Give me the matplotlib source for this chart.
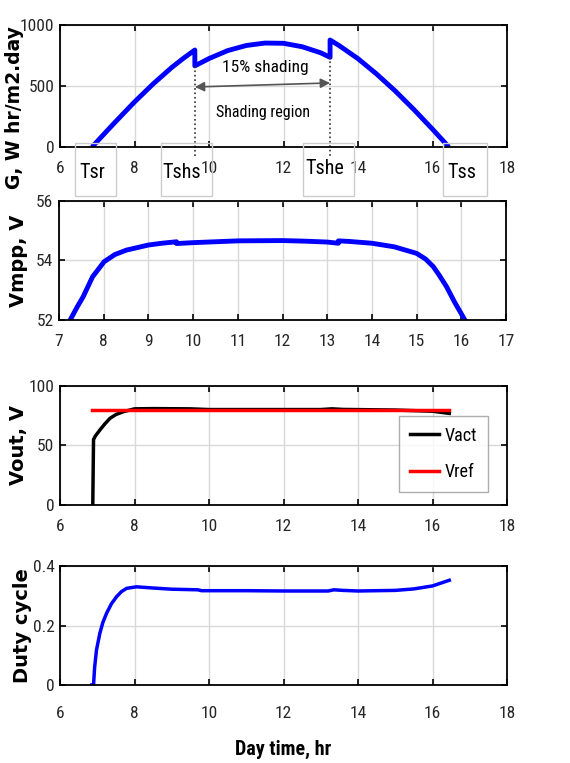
import numpy as np
import matplotlib
matplotlib.use("Agg")
import matplotlib.pyplot as plt
from matplotlib.patches import Rectangle

plt.rcParams['font.family'] = ['Roboto Condensed', 'Archivo Narrow', 'PT Sans Narrow', 'DejaVu Sans']
plt.rcParams['font.stretch'] = 'condensed'

# irradiance
g_time = [6.86, 7.2, 7.5, 8.0, 8.5, 9.0, 9.3, 9.62, 9.62, 10.0, 10.5, 11.0, 11.5,
          12.0, 12.5, 13.0, 13.25, 13.25, 13.5, 14.0, 14.5, 15.0, 15.5, 16.0, 16.44]
g_val = [0, 112, 210, 369, 517, 652, 724, 795, 665, 725, 790, 832, 852,
         850, 822, 772, 735, 877, 830, 724, 598, 459, 307, 146, 0]

# maximum power point voltage
v_time = [7.25, 7.4, 7.54, 7.75, 8.01, 8.25, 8.51, 9.0, 9.3, 9.63, 9.63, 10.0, 11.0,
          12.0, 12.5, 13.0, 13.25, 13.25, 13.5, 14.0, 14.5, 15.0, 15.2, 15.37, 15.5,
          15.67, 15.85, 16.08]
v_val = [52.0, 52.42, 52.78, 53.45, 53.96, 54.2, 54.35, 54.52, 54.58, 54.63, 54.57, 54.6, 54.66,
         54.67, 54.65, 54.62, 54.58, 54.66, 54.64, 54.58, 54.46, 54.24, 54.05, 53.8, 53.52,
         53.12, 52.6, 52.0]

# output voltage
vo_time = [6.88, 6.9, 6.95, 7.07, 7.2, 7.34, 7.5, 7.7, 8.0, 8.5, 9.5, 10.0, 12.0, 13.0,
           13.3, 13.6, 15.0, 16.0, 16.45]
vo_act = [0, 55, 58, 63, 68, 72.8, 76, 78.4, 80.8, 81, 80.8, 80.2, 80.2, 80.2,
          80.8, 80.3, 79.8, 78.8, 77.0]
vref_time = [6.86, 16.45]
vref_val = [80, 80]

# duty cycle
d_time = [6.85, 6.9, 6.93, 6.98, 7.07, 7.15, 7.25, 7.38, 7.52, 7.65, 7.79, 8.05, 8.5, 9.0,
          9.7, 9.8, 11.0, 12.0, 13.2, 13.35, 13.6, 14.0, 15.0, 15.5, 16.0, 16.45]
d_val = [0, 0, 0.06, 0.118, 0.174, 0.21, 0.241, 0.273, 0.297, 0.314, 0.325, 0.33, 0.326, 0.322,
         0.32, 0.317, 0.317, 0.316, 0.316, 0.32, 0.318, 0.316, 0.318, 0.323, 0.333, 0.352]

shade_start, shade_end = 9.62, 13.25
box_labels = ['Tsr', 'Tshs', 'Tshe', 'Tss']

W, H = 570, 763
fig = plt.figure(figsize=(W / 100, H / 100), dpi=100)


def px_axes(l, t, r, b):
    return fig.add_axes([l / W, 1 - b / H, (r - l) / W, (b - t) / H])


def style(ax):
    ax.grid(True, color='#d9d9d9', lw=1)
    ax.set_axisbelow(True)
    ax.tick_params(direction='in', top=True, right=True, labelsize=12.5,
                   labelcolor='#262626', length=4, width=1.2)
    ax.tick_params(axis='x', pad=10)
    ax.tick_params(axis='y', pad=4)
    for s in ax.spines.values():
        s.set_linewidth(1.3)


ylab = dict(family=['DejaVu Sans'], fontstretch='normal', fontweight='bold', fontsize=14)

# --- panel 1
ax1 = px_axes(60, 25, 507, 147)
ax1.plot(g_time, g_val, color='blue', lw=3.5, solid_capstyle='butt')
ax1.set_xlim(6, 18)
ax1.set_ylim(0, 1000)
ax1.set_xticks(np.arange(6, 19, 2))
ax1.set_yticks([0, 500, 1000])
style(ax1)
ax1.set_ylabel('G, W hr/m2.day', family=['DejaVu Sans'], fontstretch='normal',
               fontweight='bold', fontsize=13.5)
ax1.yaxis.set_label_coords(-0.08, 0.32)
for xs, ytop in [(shade_start, 665), (shade_end, 735)]:
    ax1.plot([xs, xs], [ytop, -85], ls=':', color='#333333', lw=1.2, clip_on=False)
ax1.annotate('', xy=(shade_start, 492), xytext=(shade_end, 525),
             arrowprops=dict(arrowstyle='<|-|>', color='#555555', lw=1.2,
                             mutation_scale=14, shrinkA=0, shrinkB=0))
ax1.text(11.5, 650, '15% shading', ha='center', va='center', fontsize=12.5)
ax1.text(11.45, 280, 'Shading region', ha='center', va='center', fontsize=11.5)

# boxes with time labels below the top axes
box_px = [(75, 116, 92, 172), (161, 212, 182, 172), (303, 354, 325, 168), (443, 487, 462, 172)]
for lab, (bl, br, tx, ty) in zip(box_labels, box_px):
    fig.patches.append(Rectangle((bl / W, 1 - 196 / H), (br - bl) / W, 53 / H,
                                 transform=fig.transFigure, fill=False,
                                 edgecolor='#cccccc', lw=1))
    fig.text(tx / W, 1 - ty / H, lab, ha='center', va='center', fontsize=14.5)

# --- panel 2
ax2 = px_axes(59, 201, 506, 320)
ax2.plot(v_time, v_val, color='blue', lw=3.5)
ax2.set_xlim(7, 17)
ax2.set_ylim(52, 56)
ax2.set_xticks(np.arange(7, 18, 1))
ax2.set_yticks([52, 54, 56])
style(ax2)
ax2.set_ylabel('Vmpp, V', **ylab)
ax2.yaxis.set_label_coords(-0.07, 0.5)

# --- panel 3
ax3 = px_axes(60, 386, 507, 505)
ax3.plot(vo_time, vo_act, color='black', lw=2.5, label='Vact')
ax3.plot(vref_time, vref_val, color='red', lw=2.5, label='Vref')
ax3.set_xlim(6, 18)
ax3.set_ylim(0, 100)
ax3.set_xticks(np.arange(6, 19, 2))
ax3.set_yticks([0, 50, 100])
style(ax3)
ax3.set_ylabel('Vout, V', **ylab)
ax3.yaxis.set_label_coords(-0.072, 0.5)
leg = ax3.legend(loc='center right', bbox_to_anchor=(0.965, 0.43), fontsize=13,
                 frameon=True, fancybox=False, edgecolor='#999999',
                 handlelength=1.6, borderpad=0.6, labelspacing=1.0, handletextpad=0.3,
                 borderaxespad=0.2)
leg.get_frame().set_linewidth(1)

# --- panel 4
ax4 = px_axes(60, 566, 507, 685)
ax4.plot(d_time, d_val, color='blue', lw=2.5)
ax4.set_xlim(6, 18)
ax4.set_ylim(0, 0.4)
ax4.set_xticks(np.arange(6, 19, 2))
ax4.set_yticks([0, 0.2, 0.4])
ax4.set_yticklabels(['0', '0.2', '0.4'])
style(ax4)
ax4.tick_params(axis='x', pad=15)
ax4.set_ylabel('Duty cycle', **ylab)
ax4.yaxis.set_label_coords(-0.063, 0.5)
ax4.set_xlabel('Day time, hr', fontsize=14.5, fontweight='bold', labelpad=14)

fig.savefig('out.png', dpi=100)
